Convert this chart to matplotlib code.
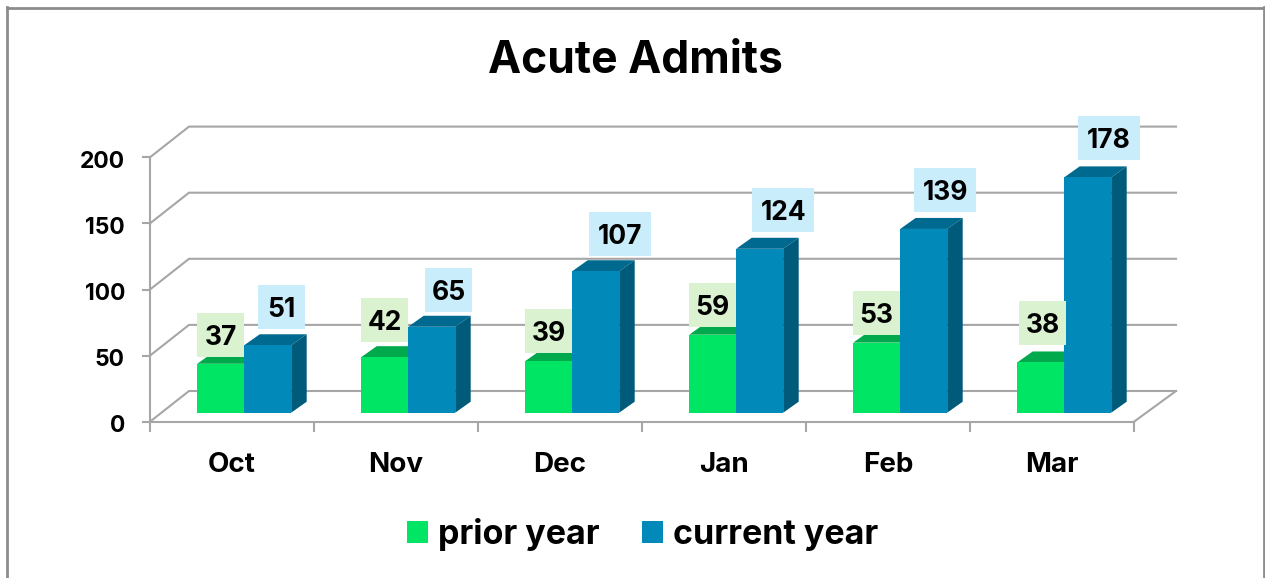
import numpy as np
from matplotlib import pyplot as plt
from matplotlib.patches import Patch, Rectangle
from matplotlib.transforms import Affine2D

months = ["Oct", "Nov", "Dec", "Jan", "Feb", "Mar"]
prior_year = [37, 42, 39, 59, 53, 38]
current_year = [51, 65, 107, 124, 139, 178]
y_ticks = [0, 50, 100, 150, 200]

# label nudges in pixels, measured from the top middle of each bar
prior_dx = [0, 0, 0, 0, 0, 2]
prior_dy = [29, 37, 30, 30, 30, 39]
current_dx = [14, 17, 24.5, 23.5, 21.5, 21.5]
current_dy = [38, 37, 37, 39, 38.5, 39]

W, H = 1265, 578
GREY = "#A6A6A6"
FONT = "Inter"

plt.rcParams["font.family"] = FONT
plt.rcParams["font.weight"] = "bold"

fig = plt.figure(figsize=(W / 100, H / 100), dpi=100, facecolor="white")

# outer chart frame, open at the bottom
for xs, ys in [((7.5, 7.5), (578, 7)), ((7, 1264), (7.5, 7.5)), ((1264, 1264), (7, 578))]:
    fig.add_artist(plt.Line2D(np.array(xs) / W, 1 - np.array(ys) / H, color="#8C8C8C", lw=2))

# front plane of the fake 3d box
left, right, top, bottom = 150, 1134, 157.3, 421.7
ax = fig.add_axes([left / W, 1 - bottom / H, (right - left) / W, (bottom - top) / H])
ax.patch.set_alpha(0)

ux = 6 / (right - left)
uy = 200 / (bottom - top)


def px(dx, dy):
    return dx * ux, dy * uy


# back wall and side lines
wall_x, wall_y = px(39, 30.7)
wall_xr, _ = px(42, 0)
for t in y_ticks:
    ax.plot([0, wall_x, 6 + wall_xr], [t, t + wall_y, t + wall_y], color=GREY, lw=1.5,
            clip_on=False, zorder=1, solid_joinstyle="miter")
ax.plot([6, 6 + wall_xr], [0, wall_y], color=GREY, lw=1.5, clip_on=False, zorder=1)

# bars
bar_w = 47 * ux
floor_x, floor_y = px(12.2, 9)
depth_x, depth_y = px(15.5, 11)
centers = np.arange(len(months)) + 0.5 + floor_x


def draw_bars(lefts, values, front, lid, side, z):
    for x0, v in zip(lefts, values):
        x1 = x0 + bar_w
        v0 = floor_y
        v1 = v + floor_y
        ax.bar(x0, v, width=bar_w, bottom=v0, align="edge", color=front, clip_on=False, zorder=z + 1)
        ax.fill([x0, x1, x1 + depth_x, x0 + depth_x], [v1, v1, v1 + depth_y, v1 + depth_y],
                color=lid, lw=0, clip_on=False, zorder=z)
        ax.fill([x1, x1 + depth_x, x1 + depth_x, x1], [v0, v0 + depth_y, v1 + depth_y, v1],
                color=side, lw=0, clip_on=False, zorder=z)


draw_bars(centers - bar_w, prior_year, "#00E564", "#00A94B", "#00A94B", 2)
draw_bars(centers, current_year, "#0189B9", "#00698F", "#005A7A", 4)


def draw_labels(mids, values, dxs, dys, color):
    for m, v, dx, dy in zip(mids, values, dxs, dys):
        text = str(v)
        box_w = (62.5 if len(text) == 3 else 47) * ux
        box_h = 44 * uy
        cx = m + dx * ux
        cy = v + floor_y + dy * uy
        ax.add_patch(Rectangle((cx - box_w / 2, cy - box_h / 2), box_w, box_h, fc=color, ec="none",
                               clip_on=False, zorder=6))
        ax.text(cx, cy, text, ha="center", va="center_baseline", fontsize=19, color="black", zorder=7)


draw_labels(centers - bar_w / 2, prior_year, prior_dx, prior_dy, "#DAF2D0")
draw_labels(centers + bar_w / 2, current_year, current_dx, current_dy, "#CAEDFB")

# axes
ax.set_xlim(0, 6)
ax.set_ylim(0, 200)
ax.set_yticks(y_ticks)
ax.set_xticks(np.arange(7))
ax.set_xticklabels([])
ax.set_xticks(np.arange(6) + 0.5, months, minor=True)
ax.tick_params(axis="y", length=6, width=1.5, color=GREY, labelsize=16.5, pad=12)
ax.tick_params(axis="x", which="major", length=7, width=1.5, color=GREY)
ax.tick_params(axis="x", which="minor", length=0, labelsize=20, pad=21.5)
for s in ["top", "right"]:
    ax.spines[s].set_visible(False)
for s in ["left", "bottom"]:
    ax.spines[s].set_color(GREY)
    ax.spines[s].set_linewidth(1.5)
    ax.spines[s].set_zorder(1.5)
for label in ax.get_yticklabels():
    label.set_transform(label.get_transform() + Affine2D().translate(0, -2))

fig.text(635.5 / W, 1 - 61 / H, "Acute Admits", ha="center", va="center", fontsize=32, color="black")

handles = [Patch(fc="#00E564", label="prior year"), Patch(fc="#0189B9", label="current year")]
fig.legend(handles=handles, loc="center", bbox_to_anchor=(642.5 / W, 1 - 534.5 / H), ncols=2, frameon=False,
           fontsize=24.5, handlelength=0.62, handleheight=0.65, handletextpad=0.3, columnspacing=1.23)

fig.savefig("out.png", dpi=100)
